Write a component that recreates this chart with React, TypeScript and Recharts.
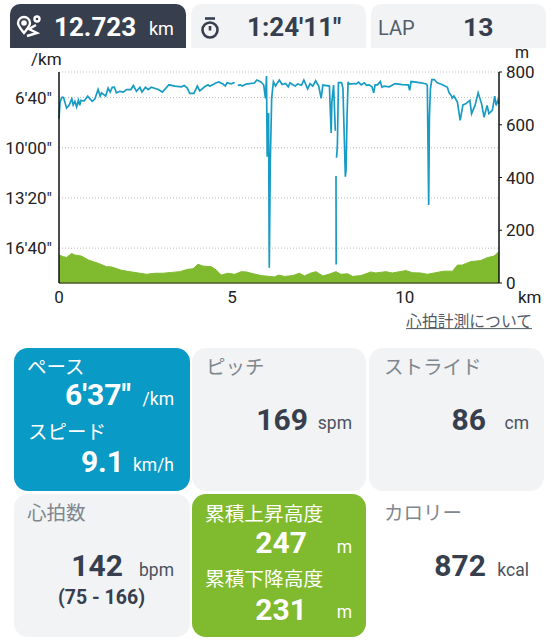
import { ComposedChart, Area, Line, XAxis, YAxis, CartesianGrid } from 'recharts'

// distance (km) and pace (seconds per km), null marks a gap in the recording
const paceKm = [
  0, 0.03, 0.08, 0.13, 0.22, 0.29, 0.37, 0.41, 0.46, 0.51, 0.56, 0.6, 0.63, 0.73, 0.83, 0.96, 1.04, 1.13, 1.19, 1.23,
  1.35, 1.42, 1.48, 1.54, 1.6, 1.66, 1.76, 1.86, 1.95, 2.08, 2.15, 2.24, 2.34, 2.4, 2.5, 2.58, 2.67, 2.87, 2.99, 3.18,
  3.35, 3.54, 3.62, 3.71, 3.78, 3.9, 4.0, 4.07, 4.21, 4.31, 4.36, 4.55, 4.62, 4.74, 4.81, 4.86, 4.98, 5.08, 5.12, 5.17,
  5.24, 5.3, 5.41, 5.65, 5.72, 5.84, 5.92, 5.97, 6.0, 6.02, 6.06, 6.08, 6.11, 6.15, 6.2, 6.26, 6.37, 6.45, 6.55, 6.63,
  6.68, 6.76, 6.83, 6.9, 7.01, 7.08, 7.19, 7.26, 7.34, 7.42, 7.51, 7.58, 7.63, 7.82, 7.85, 7.87, 7.89, 7.94, 7.99, 8.0,
  8.01, 8.015, 8.02, 8.025, 8.05, 8.08, 8.17, 8.21, 8.25, 8.28, 8.3, 8.33, 8.36, 8.39, 8.54, 8.59, 8.66, 8.74, 8.83, 8.89,
  8.97, 9.05, 9.1, 9.14, 9.21, 9.29, 9.34, 9.4, 9.55, 9.72, 9.93, 10.1, 10.14, 10.18, 10.32, 10.46, 10.62, 10.65, 10.69, 10.71,
  10.74, 10.78, 10.85, 10.94, 11.09, 11.23, 11.28, 11.34, 11.37, 11.42, 11.52, 11.6, 11.68, 11.76, 11.88, 11.93, 12.03, 12.12, 12.22, 12.29,
  12.38, 12.43, 12.53, 12.6, 12.64, 12.69, 12.72,
]
const paceSec = [
  484, 418, 399, 399, 442, 431, 405, 429, 415, 437, 411, 431, 411, 413, 394, 415, 405, 368, 394, 381,
  394, 362, 378, 359, 358, 381, 375, 378, 368, 368, 352, 375, 359, 378, 359, 368, 359, 368, 378, 349,
  354, 357, 352, 362, 383, 383, 354, 373, 357, 349, 355, 341, 338, 346, 354, 341, 345, 340, null, 351,
  349, 354, 346, 342, 330, 338, 350, 403, 314, 636, 462, 1078, 656, 402, 337, 354, 330, 348, 344, 357,
  341, 349, 354, 346, 351, 330, 365, 344, 354, 333, 354, 403, 350, 354, 470, 541, 417, 350, 532, null,
  713, 1065, null, 640, 589, 340, 340, 363, 563, 715, 689, 470, 337, 346, 344, 346, 338, 349, 341, 351,
  349, 357, 381, 349, 349, 336, 359, 354, 357, 344, 348, 349, 371, 336, 338, 341, 346, 352, 828, 480,
  365, 328, 328, 341, 349, 359, 381, 391, 402, 394, 418, 491, 429, 425, 411, 464, 431, 381, 425, 478,
  431, 464, 451, 394, 431, 411, 425,
]

// distance (km) and elevation (m)
const elevKm = [
  0, 0.125, 0.22, 0.365, 0.46, 0.65, 0.85, 1.13, 1.375, 1.52, 1.81, 2.05, 2.29, 2.53, 2.77, 3.01, 3.25, 3.49, 3.73, 3.875,
  4.02, 4.16, 4.4, 4.55, 4.69, 4.88, 5.08, 5.27, 5.41, 5.65, 5.85, 6.23, 6.35, 6.52, 6.76, 6.95, 7.1, 7.29, 7.43, 7.63,
  7.82, 8.01, 8.15, 8.35, 8.49, 8.73, 9.02, 9.16, 9.45, 9.64, 10.03, 10.22, 10.46, 10.65, 10.85, 11.13, 11.38, 11.52, 11.66, 11.9,
  12.19, 12.38, 12.58, 12.723,
]
const elevM = [
  106, 100, 97, 112, 106, 102, 87, 75, 62, 61, 48, 43, 38, 33, 37, 37, 40, 43, 52, 54,
  71, 64, 62, 49, 30, 37, 33, 43, 42, 34, 28, 23, 30, 25, 28, 37, 27, 38, 43, 27,
  34, 43, 33, 35, 25, 28, 42, 38, 43, 38, 47, 39, 38, 33, 38, 45, 45, 68, 68, 81,
  85, 96, 102, 119,
]

const paceTicks = [400, 600, 800, 1000]
const elevTicks = [0, 200, 400, 600, 800]
const kmTicks = [0, 5, 10]

const paceData = paceKm.map((km, i) => ({ km, pace: paceSec[i] }))
const elevData = elevKm.map((km, i) => ({ km, elev: elevM[i] }))

const DARK = '#373f4e'
const GREY = '#7f878f'
const CARD = '#f1f3f5'
const BLUE = '#0a9ac6'
const GREEN = '#80ba2e'
const SANS = 'Roboto, "Noto Sans CJK JP", sans-serif'

const fmtPace = (s: number) => `${Math.floor(s / 60)}'${String(s % 60).padStart(2, '0')}"`

function T({ x, r, y, size, color = DARK, bold, children, underline }: any) {
  return (
    <div
      style={{
        position: 'absolute',
        left: x,
        right: r === undefined ? undefined : 558 - r,
        top: y,
        transform: 'translateY(-50%)',
        fontSize: size,
        lineHeight: 1,
        color,
        fontWeight: bold ? 700 : 400,
        whiteSpace: 'nowrap',
        textDecoration: underline ? 'underline' : undefined,
      }}
    >
      {children}
    </div>
  )
}

function Box({ x, y, w, h, bg, top }: any) {
  return (
    <div
      style={{
        position: 'absolute',
        left: x,
        top: y,
        width: w,
        height: h,
        background: bg,
        borderRadius: top ? '10px 10px 0 0' : 14,
      }}
    />
  )
}

export default function App() {
  const tick = { fontSize: 17, fill: '#222', fontFamily: SANS }
  return (
    <div style={{ position: 'absolute', left: 0, top: 0, width: 558, height: 640, background: '#fff', fontFamily: SANS, overflow: 'hidden' }}>
      <div style={{ position: 'absolute', left: 0, top: 0 }}>
        <ComposedChart width={558} height={320} margin={{ top: 72, right: 0, bottom: 0, left: 0 }}>
          <CartesianGrid yAxisId="pace" vertical={false} stroke="#bdbdbd" strokeDasharray="1 2" />
          <XAxis
            xAxisId={0}
            type="number"
            dataKey="km"
            domain={[0, 12.723]}
            ticks={kmTicks}
            height={37}
            tickLine={false}
            tickMargin={2}
            tick={tick}
            axisLine={{ stroke: '#4d5a2c', strokeWidth: 1.5 }}
            interval={0}
            allowDuplicatedCategory={false}
          />
          <YAxis
            yAxisId="pace"
            orientation="left"
            reversed
            domain={[298, 1139]}
            ticks={paceTicks}
            tickFormatter={fmtPace}
            width={59}
            tickLine={false}
            tickMargin={1}
            tick={tick}
            axisLine={{ stroke: '#111', strokeWidth: 1.5 }}
            allowDataOverflow
            interval={0}
          />
          <YAxis
            yAxisId="elev"
            orientation="right"
            domain={[0, 800]}
            ticks={elevTicks}
            width={59}
            tickSize={3}
            tickMargin={4}
            tick={tick}
            tickLine={{ stroke: '#111' }}
            axisLine={{ stroke: '#111', strokeWidth: 1.5 }}
            interval={0}
          />
          <Area
            yAxisId="elev"
            data={elevData}
            dataKey="elev"
            type="linear"
            stroke={GREEN}
            fill={GREEN}
            fillOpacity={1}
            dot={false}
            isAnimationActive={false}
          />
          <Line
            yAxisId="pace"
            data={paceData}
            dataKey="pace"
            type="linear"
            stroke="#189cc4"
            strokeWidth={1.7}
            dot={false}
            connectNulls={false}
            isAnimationActive={false}
          />
        </ComposedChart>
      </div>

      <T x={31} y={59} size={17} color="#222">/km</T>
      <T x={515} y={53} size={16} color="#222">m</T>
      <T x={518} y={297} size={17} color="#222">km</T>
      <T r={532} y={322} size={15.8} color="#555b66" underline>心拍計測について</T>

      {/* header tabs */}
      <Box x={10} y={4} w={176} h={44} bg={DARK} top />
      <Box x={191} y={4} w={175} h={44} bg={CARD} top />
      <Box x={371} y={4} w={175} h={44} bg={CARD} top />
      <svg style={{ position: 'absolute', left: 16, top: 14 }} width={26} height={26} viewBox="0 0 26 26" fill="none" stroke="#fff" strokeWidth={2.4}>
        <path d="M8 19 C3 13 2 11 2 9 A6 6 0 0 1 14 9 C14 11 13 13 8 19 Z" />
        <circle cx={8} cy={9} r={1.6} fill="#fff" />
        <circle cx={21} cy={5} r={2.5} />
        <path d="M20 11 L13 15 L21 19 L11 22" />
      </svg>
      <svg style={{ position: 'absolute', left: 199, top: 16 }} width={22} height={24} viewBox="0 0 22 24" fill="none" stroke={DARK} strokeWidth={2.6}>
        <circle cx={11} cy={14} r={7.5} />
        <path d="M6 2.5 H16" />
        <path d="M11 10 V14.5" />
      </svg>
      <T x={54} y={27} size={26} color="#fff" bold>12.723</T>
      <T x={149} y={29} size={18} color="#fff">km</T>
      <T x={247} y={27} size={26} bold>1:24'11"</T>
      <T x={378} y={28} size={20} color="#555d6b">LAP</T>
      <T x={463} y={27} size={26.5} bold>13</T>

      {/* stat cards */}
      <Box x={14} y={348} w={176} h={143} bg={BLUE} />
      <Box x={192} y={348} w={174} h={143} bg={CARD} />
      <Box x={369} y={348} w={175} h={143} bg={CARD} />
      <Box x={14} y={494} w={176} h={143} bg={CARD} />
      <Box x={192} y={494} w={174} h={143} bg={GREEN} />

      <T x={27} y={368} size={19.5} color="#fff">ペース</T>
      <T r={131} y={395} size={30} color="#fff" bold>6'37"</T>
      <T r={174} y={400} size={17.5} color="#fff">/km</T>
      <T x={28} y={433} size={19.5} color="#fff">スピード</T>
      <T r={124} y={462} size={30} color="#fff" bold>9.1</T>
      <T r={174} y={466} size={17.5} color="#fff">km/h</T>

      <T x={206} y={368} size={19.5} color={GREY}>ピッチ</T>
      <T r={308} y={420} size={30} bold>169</T>
      <T r={352} y={424} size={17.5} color="#4b5260">spm</T>

      <T x={384} y={368} size={19.5} color={GREY}>ストライド</T>
      <T r={486} y={420} size={30} bold>86</T>
      <T r={529} y={424} size={17.5} color="#4b5260">cm</T>

      <T x={27} y={514} size={19.5} color={GREY}>心拍数</T>
      <T r={123} y={566} size={30} bold>142</T>
      <T r={174} y={571} size={17.5} color="#4b5260">bpm</T>
      <T x={58} y={598} size={19.5} bold>(75 - 166)</T>

      <T x={205} y={515} size={19.7} color="#fff">累積上昇高度</T>
      <T r={307} y={543} size={30} color="#fff" bold>247</T>
      <T r={352} y={548} size={17.5} color="#fff">m</T>
      <T x={205} y={580} size={19.7} color="#fff">累積下降高度</T>
      <T r={307} y={610} size={30} color="#fff" bold>231</T>
      <T r={352} y={613} size={17.5} color="#fff">m</T>

      <T x={384} y={514} size={19.5} color={GREY}>カロリー</T>
      <T r={486} y={566} size={30} bold>872</T>
      <T r={529} y={571} size={17.5} color="#4b5260">kcal</T>
    </div>
  )
}
